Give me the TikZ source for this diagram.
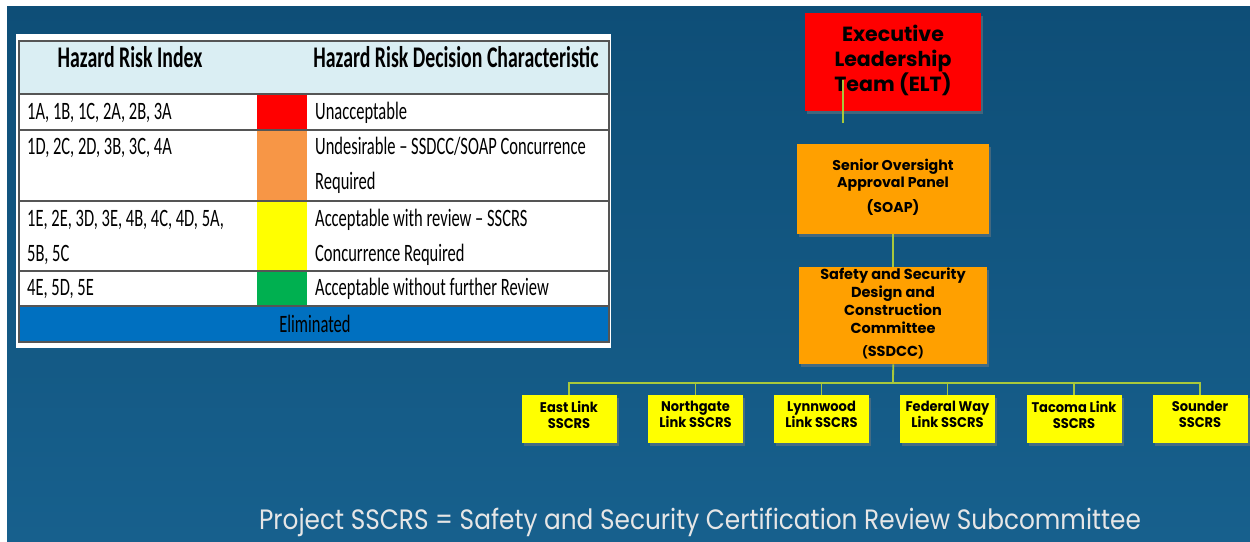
\documentclass[tikz,border=0pt]{standalone}
\usepackage{fontspec}
\setmainfont{Carlito}
\newfontfamily\tabfont[FakeStretch=0.66]{Carlito}
\newfontfamily\orgfont{Poppins}
\newfontfamily\orgnarrow[FakeStretch=0.93]{Poppins}
\newfontfamily\footfont[FakeStretch=0.885]{Poppins}
\usetikzlibrary{shadows}
\definecolor{bgtop}{HTML}{0E4E77}
\definecolor{bgbot}{HTML}{17608D}
\definecolor{hdr}{HTML}{DAEEF3}
\definecolor{elim}{HTML}{0070C0}
\definecolor{cred}{HTML}{FF0000}
\definecolor{corange}{HTML}{F79646}
\definecolor{cyellow}{HTML}{FFFF00}
\definecolor{cgreen}{HTML}{00B050}
\definecolor{boxor}{HTML}{FFA000}
\definecolor{line}{HTML}{A8C83C}
\definecolor{grid}{HTML}{555555}
\definecolor{foot}{HTML}{E6E6E6}
\tikzset{
  orgbox/.style={draw=none, inner sep=0pt, drop shadow={shadow xshift=2pt, shadow yshift=-3pt, opacity=0.45}},
  linkbox/.style={orgbox, fill=cyellow, minimum width=95pt, minimum height=48pt, align=center, text depth=9pt, font=\orgnarrow\bfseries\fontsize{14}{16}\selectfont},
  conn/.style={draw=line, line width=1.8pt},
  celltxt/.style={anchor=west, inner sep=0pt, font=\tabfont\fontsize{25}{35}\selectfont, align=left},
  hdrtxt/.style={inner sep=0pt, font=\tabfont\bfseries\fontsize{30}{34}\selectfont},
  gridline/.style={draw=grid, line width=1.3pt}
}
\begin{document}
\begin{tikzpicture}[x=1pt,y=-1pt]
\useasboundingbox (0,0) rectangle (1250,541);
\fill[white] (0,0) rectangle (1250,541);
\shade[top color=bgtop, bottom color=bgbot] (7,6) rectangle (1250,541);
% table panel
\fill[white] (16,34) rectangle (611,348);
\fill[hdr] (19,41) rectangle (609,94);
\fill[cred] (257,94) rectangle (307,130);
\fill[corange] (257,130) rectangle (307,201);
\fill[cyellow] (257,201) rectangle (307,271);
\fill[cgreen] (257,271) rectangle (307,306);
\fill[elim] (19,306) rectangle (609,342);
\draw[gridline] (19,41) rectangle (609,342);
\foreach \yy in {94,130,201,271,306} \draw[gridline] (19,\yy) -- (609,\yy);
\node[hdrtxt] (h1) at (130,57) {Hazard Risk Index};
\node[hdrtxt] (h2) at (456,57) {Hazard Risk Decision Characteristic};
\node[celltxt] (r1a) at (27,113) {1A, 1B, 1C, 2A, 2B, 3A};
\node[celltxt] (r1b) at (315,113) {Unacceptable};
\node[celltxt] (r2a) at (27,148) {1D, 2C, 2D, 3B, 3C, 4A};
\node[celltxt] (r2b) at (315,165.5) {Undesirable – SSDCC/SOAP Concurrence\\Required};
\node[celltxt] (r3a) at (27,237.5) {1E, 2E, 3D, 3E, 4B, 4C, 4D, 5A,\\5B, 5C};
\node[celltxt] (r3b) at (315,237.5) {Acceptable with review – SSCRS\\Concurrence Required};
\node[celltxt] (r4a) at (27,289) {4E, 5D, 5E};
\node[celltxt] (r4b) at (315,289) {Acceptable without further Review};
\node[inner sep=0pt, font=\tabfont\fontsize{25}{28}\selectfont, text=black] (el) at (315,324) {Eliminated};
% org chart
\node[orgbox, fill=cred, minimum width=176pt, minimum height=98pt, anchor=north west] (elt) at (805,13) {};
\node[align=center, inner sep=0pt, font=\orgfont\bfseries\fontsize{20.5}{25}\selectfont] (eltt) at (893,60) {Executive\\Leadership\\Team (ELT)};
\coordinate (eltl) at (843,80);
\coordinate (eltend) at (843,123);
\draw[conn] (eltl) -- (eltend);
\node[orgbox, fill=boxor, minimum width=192pt, minimum height=90pt, anchor=north west] (soap) at (797,144) {};
\node[align=center, inner sep=0pt, font=\orgfont\bfseries\fontsize{14.2}{17}\selectfont] (soapt) at (893,187) {Senior Oversight\\Approval Panel\\[8pt](SOAP)};
\node[orgbox, fill=boxor, minimum width=188pt, minimum height=97pt, anchor=north west] (ssdcc) at (799,267) {};
\node[align=center, inner sep=0pt, font=\orgfont\bfseries\fontsize{14.5}{18}\selectfont] (ssdcct) at (893,313) {Safety and Security\\Design and\\Construction\\Committee\\[5pt]{\fontsize{12}{14}\selectfont(}SSDCC{\fontsize{12}{14}\selectfont)}};
\draw[conn] (soap.south) -- (ssdcc.north);
\coordinate (bus) at (893,383);
\node[linkbox] (l1) at (569,419) {East Link\\SSCRS};
\node[linkbox] (l2) at (695.5,419) {Northgate\\Link SSCRS};
\node[linkbox] (l3) at (821.5,419) {Lynnwood\\Link SSCRS};
\node[linkbox] (l4) at (947.5,419) {Federal Way\\Link SSCRS};
\node[linkbox] (l5) at (1074,419) {Tacoma Link\\SSCRS};
\node[linkbox] (l6) at (1200,419) {Sounder\\SSCRS};
\draw[conn] (ssdcc.south) -- (bus);
\draw[conn] (l1.north) -- ++(0,-12) -| (l6.north);
\foreach \n in {l2,l3,l4,l5} \draw[conn] (\n.north) -- ++(0,-13);
\node[inner sep=0pt, text=foot, font=\footfont\fontsize{28}{30}\selectfont] (foot) at (700,522) {Project SSCRS = Safety and Security Certification Review Subcommittee};
\end{tikzpicture}
\end{document}
